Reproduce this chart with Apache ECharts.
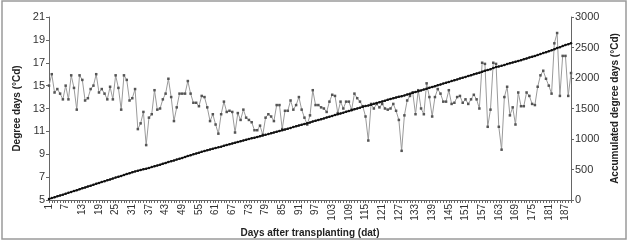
<!DOCTYPE html>
<html>
<head>
<meta charset="utf-8">
<script src="https://cdn.jsdelivr.net/npm/echarts@6/dist/echarts.min.js"></script>
<style>
  html, body { margin: 0; padding: 0; background: #fff; }
  #chart { width: 630px; height: 245px; }
</style>
</head>
<body>
<div id="chart"></div>
<script>
// days after transplanting, 1..189
var days = [];
for (var d = 1; d <= 189; d++) days.push(String(d));

// daily degree days (°Cd)
var degreeDays = [
  15.0, 16.0, 14.4, 14.7, 14.3, 13.8, 15.0, 13.8, 15.9, 14.8,
  12.9, 15.9, 15.5, 13.7, 13.9, 14.7, 15.0, 16.0, 14.4, 14.7,
  14.3, 13.8, 14.9, 13.8, 15.9, 14.8, 12.9, 15.9, 15.5, 13.7,
  13.9, 14.7, 11.2, 11.7, 12.7, 9.8, 12.2, 12.5, 14.6, 12.9,
  13.0, 13.8, 14.3, 15.6, 14.0, 11.9, 13.1, 14.3, 14.3, 14.3,
  15.4, 14.3, 13.5, 13.5, 13.2, 14.1, 14.0, 13.1, 11.9, 12.5,
  11.6, 10.8, 12.5, 13.6, 12.7, 12.8, 12.7, 10.9, 12.6, 12.0,
  12.9, 12.2, 12.0, 11.8, 11.1, 11.1, 11.5, 10.7, 12.2, 12.5,
  12.3, 11.9, 13.3, 13.3, 11.2, 12.8, 12.8, 13.7, 12.9, 13.3,
  14.0, 12.9, 12.2, 11.6, 12.4, 14.6, 13.3, 13.3, 13.1, 13.0,
  12.7, 13.6, 14.2, 14.1, 12.6, 13.6, 13.0, 13.6, 13.6, 12.9,
  14.3, 13.9, 13.6, 13.2, 12.3, 10.2, 13.4, 13.0, 13.4, 13.1,
  13.4, 13.0, 12.9, 13.0, 13.4, 12.8, 12.0, 9.3, 12.4, 13.7,
  14.1, 14.4, 12.5, 14.6, 13.0, 12.5, 15.2, 14.0, 12.3, 14.0,
  14.7, 14.3, 13.6, 13.6, 14.6, 13.4, 13.5, 14.0, 14.1, 13.5,
  13.8, 13.4, 13.8, 14.2, 13.8, 13.0, 17.0, 16.9, 11.4, 12.9,
  17.0, 16.9, 11.4, 9.4, 14.0, 14.9, 12.4, 13.1, 11.6, 14.4,
  13.2, 13.2, 14.4, 14.1, 13.4, 13.3, 14.9, 15.9, 16.3, 15.6,
  15.0, 14.3, 18.7, 19.6, 14.1, 17.6, 17.6, 14.1, 16.1
];

// accumulated degree days (°Cd)
var accumulated = [
  15, 31, 45, 60, 74, 88, 103, 117, 133, 148,
  161, 177, 192, 206, 220, 234, 249, 265, 280, 294,
  309, 323, 337, 351, 367, 382, 395, 411, 426, 440,
  454, 469, 480, 491, 504, 514, 526, 539, 553, 566,
  579, 593, 607, 623, 637, 649, 662, 676, 690, 705,
  720, 734, 748, 761, 775, 789, 803, 816, 828, 840,
  852, 863, 875, 889, 901, 914, 927, 938, 950, 962,
  975, 988, 1000, 1011, 1022, 1034, 1045, 1056, 1068, 1080,
  1093, 1105, 1118, 1131, 1142, 1155, 1168, 1182, 1195, 1208,
  1222, 1235, 1247, 1259, 1271, 1286, 1299, 1312, 1325, 1338,
  1351, 1365, 1379, 1393, 1406, 1419, 1432, 1446, 1459, 1472,
  1487, 1500, 1514, 1527, 1540, 1550, 1563, 1576, 1590, 1603,
  1616, 1629, 1642, 1655, 1668, 1681, 1693, 1702, 1715, 1729,
  1743, 1757, 1770, 1784, 1797, 1810, 1825, 1839, 1851, 1865,
  1880, 1894, 1908, 1921, 1936, 1949, 1963, 1977, 1991, 2004,
  2018, 2032, 2045, 2060, 2073, 2086, 2103, 2120, 2132, 2145,
  2162, 2179, 2190, 2199, 2213, 2228, 2241, 2254, 2265, 2280,
  2293, 2306, 2321, 2335, 2348, 2361, 2376, 2392, 2408, 2424,
  2439, 2453, 2472, 2492, 2506, 2523, 2541, 2555, 2571
];

var font = '"Liberation Sans Narrow", "Liberation Sans", Arial, sans-serif';

var chart = echarts.init(document.getElementById('chart'));

var option = {
  animation: false,
  textStyle: { fontFamily: font },
  grid: { left: 49, right: 59, top: 17, bottom: 45 },
  graphic: [{
    type: 'rect',
    shape: { x: 2, y: 1, width: 624, height: 238 },
    style: { fill: 'none', stroke: '#9a9a9a', lineWidth: 1.5 },
    silent: true
  }],
  xAxis: {
    type: 'category',
    data: days,
    boundaryGap: false,
    name: 'Days after transplanting (dat)',
    nameLocation: 'middle',
    nameGap: 26,
    nameTextStyle: { fontSize: 10, fontWeight: 'bold', color: '#222', fontFamily: font },
    axisLine: { lineStyle: { color: '#666', width: 1 } },
    axisTick: { interval: 0, length: 3, lineStyle: { color: '#666' } },
    axisLabel: {
      interval: 5, rotate: 90, fontSize: 10, color: '#333', margin: 4, fontFamily: font
    },
    splitLine: { show: false }
  },
  yAxis: [{
    type: 'value',
    min: 5, max: 21, interval: 2,
    name: 'Degree days (°Cd)',
    nameLocation: 'middle',
    nameRotate: 90,
    nameGap: 21,
    nameTextStyle: { fontSize: 10, fontWeight: 'bold', color: '#222', fontFamily: font },
    axisLine: { show: true, lineStyle: { color: '#666', width: 1 } },
    axisTick: { show: true, length: 3, lineStyle: { color: '#666' } },
    axisLabel: { fontSize: 11, color: '#333', margin: 4, fontFamily: font },
    splitLine: { show: false }
  }, {
    type: 'value',
    position: 'right',
    min: 0, max: 3000, interval: 500,
    name: 'Accumulated degree days (°Cd)',
    nameLocation: 'middle',
    nameRotate: 90,
    nameGap: 33,
    nameTextStyle: { fontSize: 10, fontWeight: 'bold', color: '#222', fontFamily: font },
    axisLine: { show: true, lineStyle: { color: '#666', width: 1 } },
    axisTick: { show: true, length: 3, lineStyle: { color: '#666' } },
    axisLabel: {
      fontSize: 11, color: '#333', margin: 4, fontFamily: font,
      formatter: function (v) { return String(v); }
    },
    splitLine: { show: false }
  }],
  series: [{
    name: 'Degree days',
    type: 'line',
    data: degreeDays,
    yAxisIndex: 0,
    symbol: 'rect',
    symbolSize: 2.5,
    showAllSymbol: true,
    lineStyle: { color: '#9a9a9a', width: 1 },
    itemStyle: { color: '#555' },
    z: 2
  }, {
    name: 'Accumulated degree days',
    type: 'line',
    data: accumulated,
    yAxisIndex: 1,
    symbol: 'circle',
    symbolSize: 2.5,
    showAllSymbol: true,
    lineStyle: { color: '#111', width: 1.5 },
    itemStyle: { color: '#111' },
    z: 3
  }]
};

chart.setOption(option);
</script>
</body>
</html>
